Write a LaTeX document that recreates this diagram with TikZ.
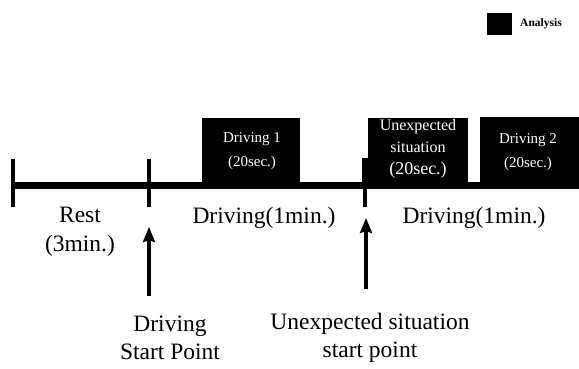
\documentclass[tikz,border=0pt]{standalone}
\usepackage{fontspec}
\setmainfont{Liberation Serif}
\usetikzlibrary{arrows.meta}
\begin{document}
\begin{tikzpicture}[x=1pt,y=-1pt,
  biglabel/.style={inner sep=0pt,align=center,font=\fontsize{23.5}{28.5}\selectfont},
  boxtext/.style={inner sep=0pt,align=center,text=white,font=\fontsize{15}{24}\selectfont},
  phase/.style={fill=black,draw=none},
  tickmark/.style={line width=4pt},
  uparrow/.style={line width=3.2pt,-{Stealth[length=15pt,width=12pt,inset=2pt]}}]
\useasboundingbox (0,0) rectangle (579,369);
% legend
\node[phase,minimum width=25pt,minimum height=22pt,inner sep=0pt] (leg) at (499.5,24) {};
\node[inner sep=0pt,anchor=west,font=\fontsize{11.5}{14}\selectfont\bfseries] (legt) at (520,24) {Analysis};
% analysis boxes
\fill[phase] (202,118) rectangle (300,186);
\fill[phase] (368,118) rectangle (468,186);
\fill[phase] (480,117) rectangle (579,186);
\fill[phase] (362,158) rectangle (368,186);
% timeline
\coordinate (tl0) at (12,185.5);
\coordinate (tl1) at (579,185.5);
\draw[line width=6.5pt] (tl0) -- (tl1);
\coordinate (t0a) at (12.5,159); \coordinate (t0b) at (12.5,207);
\coordinate (t1a) at (149,159); \coordinate (t1b) at (149,207);
\coordinate (t2a) at (365,159); \coordinate (t2b) at (365,207);
\draw[tickmark] (t0a) -- (t0b);
\draw[tickmark] (t1a) -- (t1b);
\draw[tickmark] (t2a) -- (t2b);
% box texts
\node[boxtext] (d1) at (252,151) {Driving 1\\(20sec.)};
\node[boxtext,font=\fontsize{16}{22}\selectfont] (ue) at (418,149) {Unexpected\\situation\\{\fontsize{18}{22}\selectfont(20sec.)}};
\node[boxtext] (d2) at (528,152) {Driving 2\\(20sec.)};
% labels
\node[biglabel] (rest) at (80,232) {Rest\\(3min.)};
\node[biglabel] (dr1) at (264,218) {Driving(1min.)};
\node[biglabel] (dr2) at (474,218) {Driving(1min.)};
\node[biglabel] (dsp) at (170,338) {Driving\\Start Point};
\node[biglabel] (usp) at (370,338) {Unexpected situation\\start point};
% arrows
\coordinate (a1s) at (149,296); \coordinate (a1e) at (149,227);
\coordinate (a2s) at (366,289); \coordinate (a2e) at (366,218);
\draw[uparrow] (a1s) -- (a1e);
\draw[uparrow] (a2s) -- (a2e);
\end{tikzpicture}
\end{document}
